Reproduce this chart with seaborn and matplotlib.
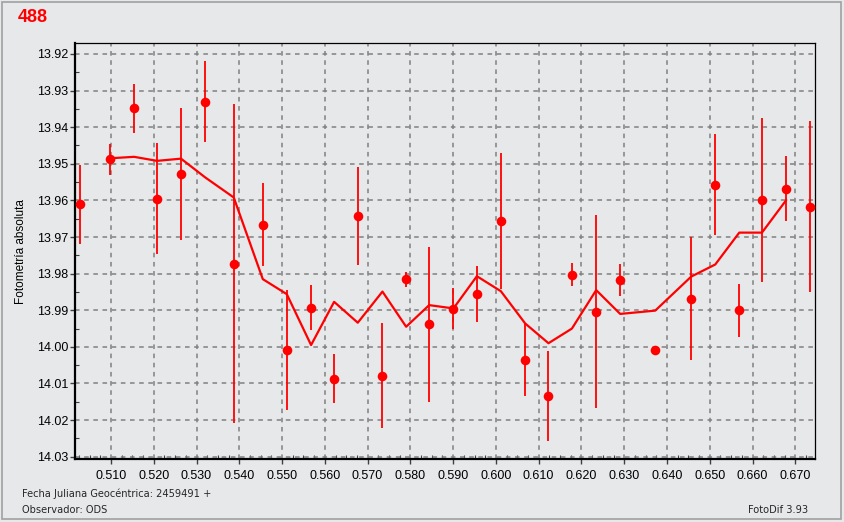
import matplotlib
matplotlib.use("Agg")
import matplotlib.pyplot as plt
import seaborn as sns
import pandas as pd
from matplotlib.ticker import MultipleLocator, FormatStrFormatter
from matplotlib.patches import Rectangle

# ---- data ----
jd = [0.50275, 0.50977, 0.51540, 0.52076, 0.52637, 0.53200, 0.53870, 0.54549,
      0.55110, 0.55678, 0.56217, 0.56770, 0.57347, 0.57901, 0.58439, 0.59007,
      0.59555, 0.60116, 0.60684, 0.61229, 0.61777, 0.62345, 0.62906, 0.63725,
      0.64567, 0.65129, 0.65690, 0.66221, 0.66789, 0.67351]
mag = [13.9611, 13.9488, 13.9349, 13.9595, 13.9527, 13.9330, 13.9773, 13.9666,
       14.0009, 13.9893, 14.0087, 13.9642, 14.0079, 13.9816, 13.9938, 13.9896,
       13.9856, 13.9656, 14.0036, 14.0134, 13.9803, 13.9904, 13.9817, 14.0008,
       13.9869, 13.9557, 13.9900, 13.9599, 13.9568, 13.9617]
err = [0.0107, 0.0042, 0.0067, 0.0152, 0.0180, 0.0110, 0.0436, 0.0113,
       0.0163, 0.0061, 0.0067, 0.0134, 0.0143, 0.0020, 0.0212, 0.0056,
       0.0077, 0.0185, 0.0098, 0.0124, 0.0031, 0.0264, 0.0043, 0.0005,
       0.0168, 0.0137, 0.0073, 0.0225, 0.0088, 0.0233]
# running-mean curve (at points 2..29)
line_jd = jd[1:-1]
line_mag = [13.9485, 13.9481, 13.9492, 13.9486, 13.9537, 13.9592, 13.9815,
            13.9856, 13.9995, 13.9877, 13.9934, 13.9849, 13.9945, 13.9886,
            13.9895, 13.9807, 13.9848, 13.9936, 13.9990, 13.9950, 13.9845,
            13.9910, 13.9901, 13.9808, 13.9775, 13.9688, 13.9688, 13.9599]

title = "488"
ylabel = "Fotometría absoluta"
foot_left1 = "Fecha Juliana Geocéntrica: 2459491 +"
foot_left2 = "Observador: ODS"
foot_right = "FotoDif 3.93"

pts = pd.DataFrame({"jd": jd, "mag": mag, "err": err})
curve = pd.DataFrame({"jd": line_jd, "mag": line_mag})

sns.set_theme(style="white")
plt.rcParams["font.family"] = ["Liberation Sans", "DejaVu Sans"]

BG = "#e7e8ea"
W, H = 844, 522
fig = plt.figure(figsize=(W / 100, H / 100), dpi=100, facecolor=BG)
L, R, T, B = 75, 815, 43.3, 459.3
ax = fig.add_axes([L / W, 1 - B / H, (R - L) / W, (B - T) / H])
ax.set_facecolor(BG)

# grid
ax.set_axisbelow(True)
ax.grid(True, which="major", color="#808080", linestyle=(0, (3, 3)), linewidth=1.1)

# error bars
ax.errorbar(pts["jd"], pts["mag"], yerr=pts["err"], fmt="none",
            ecolor="#ff0000", elinewidth=1.3, capsize=0, zorder=3)
# running mean line
sns.lineplot(data=curve, x="jd", y="mag", ax=ax, color="#ff0000",
             linewidth=1.6, sort=False, estimator=None, zorder=4)
# points
sns.scatterplot(data=pts, x="jd", y="mag", ax=ax, color="#ff0000", s=48,
                marker="o", edgecolor="#ff0000", linewidth=0, zorder=5)

ax.set_xlim(0.50158, 0.67461)
ax.set_ylim(14.0307, 13.9171)

ax.xaxis.set_major_locator(MultipleLocator(0.01))
ax.xaxis.set_minor_locator(MultipleLocator(0.0025))
ax.yaxis.set_major_locator(MultipleLocator(0.01))
ax.yaxis.set_minor_locator(MultipleLocator(0.005))
ax.xaxis.set_major_formatter(FormatStrFormatter("%.3f"))
ax.yaxis.set_major_formatter(FormatStrFormatter("%.2f"))

ax.tick_params(axis="both", which="major", direction="out", length=3.5,
               width=1, color="#404040", labelsize=9, labelcolor="#000000")
ax.tick_params(axis="x", which="major", pad=4)
ax.tick_params(axis="y", which="major", pad=1.5)
ax.tick_params(axis="both", which="minor", direction="in", length=3,
               width=0.8, color="#404040")
ax.tick_params(axis="x", which="both", bottom=True)
ax.tick_params(axis="y", which="both", left=True)

ax.set_xlabel("")
ax.set_ylabel(ylabel, fontsize=8.5, color="#000000")
ax.yaxis.set_label_coords(-0.0649, 0.5)

for side, lw in [("left", 1.6), ("bottom", 1.6), ("top", 0.9), ("right", 0.9)]:
    ax.spines[side].set_visible(True)
    ax.spines[side].set_color("#000000")
    ax.spines[side].set_linewidth(lw)

# texts
fig.text(18 / W, 1 - 18 / H, title, color="#ff0000", fontsize=13,
         fontweight="bold", ha="left", va="center")
fig.text(22 / W, 1 - 494 / H, foot_left1, fontsize=7.1, ha="left", va="center",
         family=["DejaVu Sans"])
fig.text(22 / W, 1 - 510 / H, foot_left2, fontsize=7.1, ha="left", va="center",
         family=["DejaVu Sans"])
fig.text(808 / W, 1 - 510 / H, foot_right, fontsize=7.1, ha="right", va="center",
         family=["DejaVu Sans"])

# window frame
fig.patches.append(Rectangle((1.5 / W, 1 - 518.5 / H), 839.5 / W, 517 / H,
                             transform=fig.transFigure, fill=False,
                             edgecolor="#a0a0a0", linewidth=1.2))

fig.savefig("out.png", dpi=100, facecolor=BG)
